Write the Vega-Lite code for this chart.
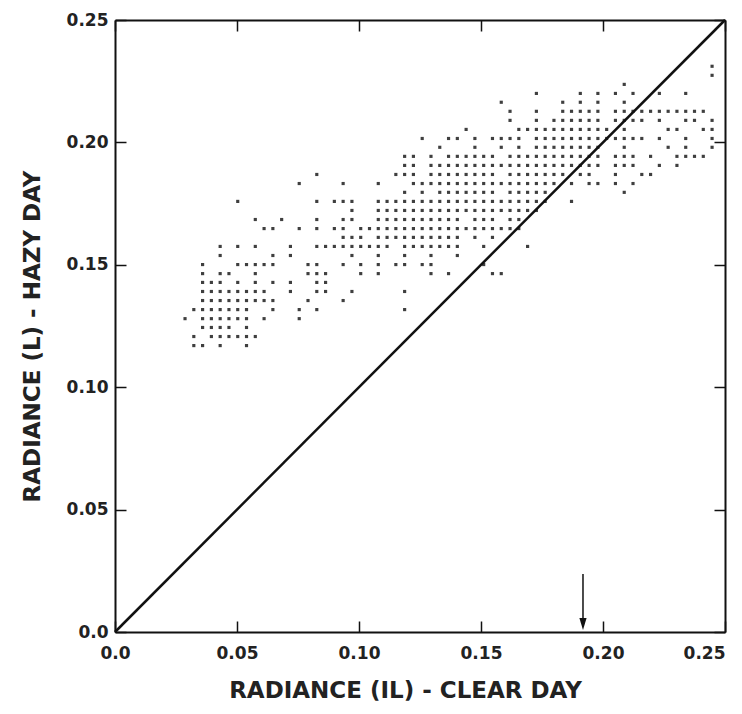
{
  "$schema": "https://vega.github.io/schema/vega-lite/v6.json",
  "width": 610,
  "height": 612,
  "autosize": "none",
  "padding": {"left": 115, "top": 20, "right": 17, "bottom": 82},
  "background": "white",
  "config": {
    "view": {"stroke": null},
    "axis": {
      "grid": false,
      "domainColor": "#111",
      "domainWidth": 2,
      "tickColor": "#111",
      "tickWidth": 1.5,
      "tickSize": -11,
      "labelFont": "DejaVu Sans",
      "labelFontWeight": "bold",
      "labelFontSize": 17,
      "labelColor": "#222",
      "titleFont": "DejaVu Sans",
      "titleFontWeight": "bold",
      "titleFontSize": 23,
      "titleColor": "#222"
    }
  },
  "layer": [
    {
      "data": {"values": [
        {"clear":0.0323,"hazy":0.117},{"clear":0.0359,"hazy":0.117},{"clear":0.0431,"hazy":0.117},{"clear":0.0539,"hazy":0.117},
        {"clear":0.0323,"hazy":0.1207},{"clear":0.0395,"hazy":0.1207},{"clear":0.0431,"hazy":0.1207},{"clear":0.0467,"hazy":0.1207},{"clear":0.0503,"hazy":0.1207},{"clear":0.0539,"hazy":0.1207},{"clear":0.0575,"hazy":0.1207},
        {"clear":0.0359,"hazy":0.1244},{"clear":0.0395,"hazy":0.1244},{"clear":0.0431,"hazy":0.1244},{"clear":0.0467,"hazy":0.1244},{"clear":0.0539,"hazy":0.1244},
        {"clear":0.0287,"hazy":0.128},{"clear":0.0359,"hazy":0.128},{"clear":0.0395,"hazy":0.128},{"clear":0.0431,"hazy":0.128},{"clear":0.0467,"hazy":0.128},{"clear":0.0503,"hazy":0.128},{"clear":0.0539,"hazy":0.128},{"clear":0.0611,"hazy":0.128},{"clear":0.0755,"hazy":0.128},
        {"clear":0.0323,"hazy":0.1317},{"clear":0.0359,"hazy":0.1317},{"clear":0.0395,"hazy":0.1317},{"clear":0.0431,"hazy":0.1317},{"clear":0.0467,"hazy":0.1317},{"clear":0.0503,"hazy":0.1317},{"clear":0.0539,"hazy":0.1317},{"clear":0.0647,"hazy":0.1317},{"clear":0.0755,"hazy":0.1317},{"clear":0.0827,"hazy":0.1317},{"clear":0.1187,"hazy":0.1317},
        {"clear":0.0359,"hazy":0.1354},{"clear":0.0395,"hazy":0.1354},{"clear":0.0431,"hazy":0.1354},{"clear":0.0467,"hazy":0.1354},{"clear":0.0503,"hazy":0.1354},{"clear":0.0539,"hazy":0.1354},{"clear":0.0575,"hazy":0.1354},{"clear":0.0611,"hazy":0.1354},{"clear":0.0647,"hazy":0.1354},{"clear":0.0791,"hazy":0.1354},{"clear":0.0935,"hazy":0.1354},
        {"clear":0.0359,"hazy":0.1391},{"clear":0.0395,"hazy":0.1391},{"clear":0.0431,"hazy":0.1391},{"clear":0.0467,"hazy":0.1391},{"clear":0.0503,"hazy":0.1391},{"clear":0.0539,"hazy":0.1391},{"clear":0.0575,"hazy":0.1391},{"clear":0.0611,"hazy":0.1391},{"clear":0.0719,"hazy":0.1391},{"clear":0.0827,"hazy":0.1391},{"clear":0.0863,"hazy":0.1391},{"clear":0.0971,"hazy":0.1391},{"clear":0.1187,"hazy":0.1391},
        {"clear":0.0359,"hazy":0.1428},{"clear":0.0395,"hazy":0.1428},{"clear":0.0431,"hazy":0.1428},{"clear":0.0503,"hazy":0.1428},{"clear":0.0575,"hazy":0.1428},{"clear":0.0647,"hazy":0.1428},{"clear":0.0719,"hazy":0.1428},{"clear":0.0827,"hazy":0.1428},{"clear":0.0863,"hazy":0.1428},
        {"clear":0.0359,"hazy":0.1464},{"clear":0.0431,"hazy":0.1464},{"clear":0.0467,"hazy":0.1464},{"clear":0.0575,"hazy":0.1464},{"clear":0.0791,"hazy":0.1464},{"clear":0.0827,"hazy":0.1464},{"clear":0.0863,"hazy":0.1464},{"clear":0.1007,"hazy":0.1464},{"clear":0.1079,"hazy":0.1464},{"clear":0.1295,"hazy":0.1464},{"clear":0.1367,"hazy":0.1464},{"clear":0.1547,"hazy":0.1464},{"clear":0.1583,"hazy":0.1464},
        {"clear":0.0359,"hazy":0.1501},{"clear":0.0503,"hazy":0.1501},{"clear":0.0539,"hazy":0.1501},{"clear":0.0575,"hazy":0.1501},{"clear":0.0611,"hazy":0.1501},{"clear":0.0647,"hazy":0.1501},{"clear":0.0791,"hazy":0.1501},{"clear":0.0827,"hazy":0.1501},{"clear":0.0935,"hazy":0.1501},{"clear":0.1007,"hazy":0.1501},{"clear":0.1079,"hazy":0.1501},{"clear":0.1151,"hazy":0.1501},{"clear":0.1187,"hazy":0.1501},{"clear":0.1259,"hazy":0.1501},{"clear":0.1295,"hazy":0.1501},{"clear":0.1511,"hazy":0.1501},
        {"clear":0.0431,"hazy":0.1538},{"clear":0.0647,"hazy":0.1538},{"clear":0.0719,"hazy":0.1538},{"clear":0.0971,"hazy":0.1538},{"clear":0.1079,"hazy":0.1538},{"clear":0.1187,"hazy":0.1538},{"clear":0.1295,"hazy":0.1538},{"clear":0.1403,"hazy":0.1538},
        {"clear":0.0431,"hazy":0.1575},{"clear":0.0503,"hazy":0.1575},{"clear":0.0575,"hazy":0.1575},{"clear":0.0719,"hazy":0.1575},{"clear":0.0827,"hazy":0.1575},{"clear":0.0863,"hazy":0.1575},{"clear":0.0899,"hazy":0.1575},{"clear":0.0935,"hazy":0.1575},{"clear":0.0971,"hazy":0.1575},{"clear":0.1007,"hazy":0.1575},{"clear":0.1043,"hazy":0.1575},{"clear":0.1079,"hazy":0.1575},{"clear":0.1115,"hazy":0.1575},{"clear":0.1187,"hazy":0.1575},{"clear":0.1223,"hazy":0.1575},{"clear":0.1259,"hazy":0.1575},{"clear":0.1295,"hazy":0.1575},{"clear":0.1331,"hazy":0.1575},{"clear":0.1367,"hazy":0.1575},{"clear":0.1403,"hazy":0.1575},{"clear":0.1511,"hazy":0.1575},{"clear":0.1691,"hazy":0.1575},
        {"clear":0.0935,"hazy":0.1612},{"clear":0.0971,"hazy":0.1612},{"clear":0.1007,"hazy":0.1612},{"clear":0.1079,"hazy":0.1612},{"clear":0.1115,"hazy":0.1612},{"clear":0.1151,"hazy":0.1612},{"clear":0.1187,"hazy":0.1612},{"clear":0.1223,"hazy":0.1612},{"clear":0.1259,"hazy":0.1612},{"clear":0.1295,"hazy":0.1612},{"clear":0.1331,"hazy":0.1612},{"clear":0.1367,"hazy":0.1612},{"clear":0.1403,"hazy":0.1612},{"clear":0.1475,"hazy":0.1612},{"clear":0.1547,"hazy":0.1612},
        {"clear":0.0611,"hazy":0.1648},{"clear":0.0647,"hazy":0.1648},{"clear":0.0755,"hazy":0.1648},{"clear":0.0827,"hazy":0.1648},{"clear":0.0899,"hazy":0.1648},{"clear":0.0935,"hazy":0.1648},{"clear":0.1007,"hazy":0.1648},{"clear":0.1043,"hazy":0.1648},{"clear":0.1079,"hazy":0.1648},{"clear":0.1115,"hazy":0.1648},{"clear":0.1151,"hazy":0.1648},{"clear":0.1187,"hazy":0.1648},{"clear":0.1223,"hazy":0.1648},{"clear":0.1259,"hazy":0.1648},{"clear":0.1295,"hazy":0.1648},{"clear":0.1331,"hazy":0.1648},{"clear":0.1367,"hazy":0.1648},{"clear":0.1403,"hazy":0.1648},{"clear":0.1439,"hazy":0.1648},{"clear":0.1475,"hazy":0.1648},{"clear":0.1511,"hazy":0.1648},{"clear":0.1547,"hazy":0.1648},{"clear":0.1583,"hazy":0.1648},{"clear":0.1619,"hazy":0.1648},{"clear":0.1655,"hazy":0.1648},
        {"clear":0.0575,"hazy":0.1685},{"clear":0.0683,"hazy":0.1685},{"clear":0.0827,"hazy":0.1685},{"clear":0.0935,"hazy":0.1685},{"clear":0.0971,"hazy":0.1685},{"clear":0.1079,"hazy":0.1685},{"clear":0.1115,"hazy":0.1685},{"clear":0.1151,"hazy":0.1685},{"clear":0.1187,"hazy":0.1685},{"clear":0.1223,"hazy":0.1685},{"clear":0.1259,"hazy":0.1685},{"clear":0.1295,"hazy":0.1685},{"clear":0.1331,"hazy":0.1685},{"clear":0.1367,"hazy":0.1685},{"clear":0.1403,"hazy":0.1685},{"clear":0.1475,"hazy":0.1685},{"clear":0.1511,"hazy":0.1685},{"clear":0.1547,"hazy":0.1685},{"clear":0.1619,"hazy":0.1685},{"clear":0.1655,"hazy":0.1685},
        {"clear":0.0971,"hazy":0.1722},{"clear":0.1079,"hazy":0.1722},{"clear":0.1115,"hazy":0.1722},{"clear":0.1151,"hazy":0.1722},{"clear":0.1187,"hazy":0.1722},{"clear":0.1223,"hazy":0.1722},{"clear":0.1259,"hazy":0.1722},{"clear":0.1295,"hazy":0.1722},{"clear":0.1331,"hazy":0.1722},{"clear":0.1367,"hazy":0.1722},{"clear":0.1403,"hazy":0.1722},{"clear":0.1439,"hazy":0.1722},{"clear":0.1475,"hazy":0.1722},{"clear":0.1511,"hazy":0.1722},{"clear":0.1547,"hazy":0.1722},{"clear":0.1583,"hazy":0.1722},{"clear":0.1619,"hazy":0.1722},{"clear":0.1655,"hazy":0.1722},{"clear":0.1691,"hazy":0.1722},{"clear":0.1727,"hazy":0.1722},
        {"clear":0.0503,"hazy":0.1759},{"clear":0.0827,"hazy":0.1759},{"clear":0.0899,"hazy":0.1759},{"clear":0.0935,"hazy":0.1759},{"clear":0.0971,"hazy":0.1759},{"clear":0.1079,"hazy":0.1759},{"clear":0.1115,"hazy":0.1759},{"clear":0.1151,"hazy":0.1759},{"clear":0.1187,"hazy":0.1759},{"clear":0.1223,"hazy":0.1759},{"clear":0.1259,"hazy":0.1759},{"clear":0.1295,"hazy":0.1759},{"clear":0.1331,"hazy":0.1759},{"clear":0.1367,"hazy":0.1759},{"clear":0.1403,"hazy":0.1759},{"clear":0.1439,"hazy":0.1759},{"clear":0.1475,"hazy":0.1759},{"clear":0.1511,"hazy":0.1759},{"clear":0.1547,"hazy":0.1759},{"clear":0.1583,"hazy":0.1759},{"clear":0.1619,"hazy":0.1759},{"clear":0.1655,"hazy":0.1759},{"clear":0.1691,"hazy":0.1759},{"clear":0.1727,"hazy":0.1759},{"clear":0.1763,"hazy":0.1759},{"clear":0.1871,"hazy":0.1759},
        {"clear":0.1187,"hazy":0.1796},{"clear":0.1259,"hazy":0.1796},{"clear":0.1331,"hazy":0.1796},{"clear":0.1367,"hazy":0.1796},{"clear":0.1403,"hazy":0.1796},{"clear":0.1439,"hazy":0.1796},{"clear":0.1475,"hazy":0.1796},{"clear":0.1511,"hazy":0.1796},{"clear":0.1547,"hazy":0.1796},{"clear":0.1619,"hazy":0.1796},{"clear":0.1655,"hazy":0.1796},{"clear":0.1691,"hazy":0.1796},{"clear":0.1727,"hazy":0.1796},{"clear":0.1763,"hazy":0.1796},{"clear":0.2087,"hazy":0.1796},
        {"clear":0.0755,"hazy":0.1832},{"clear":0.0935,"hazy":0.1832},{"clear":0.1079,"hazy":0.1832},{"clear":0.1223,"hazy":0.1832},{"clear":0.1259,"hazy":0.1832},{"clear":0.1295,"hazy":0.1832},{"clear":0.1331,"hazy":0.1832},{"clear":0.1367,"hazy":0.1832},{"clear":0.1403,"hazy":0.1832},{"clear":0.1439,"hazy":0.1832},{"clear":0.1475,"hazy":0.1832},{"clear":0.1511,"hazy":0.1832},{"clear":0.1547,"hazy":0.1832},{"clear":0.1583,"hazy":0.1832},{"clear":0.1619,"hazy":0.1832},{"clear":0.1655,"hazy":0.1832},{"clear":0.1691,"hazy":0.1832},{"clear":0.1727,"hazy":0.1832},{"clear":0.1763,"hazy":0.1832},{"clear":0.1799,"hazy":0.1832},{"clear":0.1871,"hazy":0.1832},{"clear":0.1943,"hazy":0.1832},{"clear":0.1979,"hazy":0.1832},{"clear":0.2051,"hazy":0.1832},{"clear":0.2123,"hazy":0.1832},
        {"clear":0.0827,"hazy":0.1869},{"clear":0.1151,"hazy":0.1869},{"clear":0.1187,"hazy":0.1869},{"clear":0.1223,"hazy":0.1869},{"clear":0.1295,"hazy":0.1869},{"clear":0.1331,"hazy":0.1869},{"clear":0.1367,"hazy":0.1869},{"clear":0.1403,"hazy":0.1869},{"clear":0.1439,"hazy":0.1869},{"clear":0.1475,"hazy":0.1869},{"clear":0.1511,"hazy":0.1869},{"clear":0.1547,"hazy":0.1869},{"clear":0.1619,"hazy":0.1869},{"clear":0.1655,"hazy":0.1869},{"clear":0.1691,"hazy":0.1869},{"clear":0.1727,"hazy":0.1869},{"clear":0.1763,"hazy":0.1869},{"clear":0.1799,"hazy":0.1869},{"clear":0.1835,"hazy":0.1869},{"clear":0.1907,"hazy":0.1869},{"clear":0.1943,"hazy":0.1869},{"clear":0.2051,"hazy":0.1869},{"clear":0.2159,"hazy":0.1869},{"clear":0.2195,"hazy":0.1869},
        {"clear":0.1187,"hazy":0.1906},{"clear":0.1223,"hazy":0.1906},{"clear":0.1295,"hazy":0.1906},{"clear":0.1331,"hazy":0.1906},{"clear":0.1367,"hazy":0.1906},{"clear":0.1403,"hazy":0.1906},{"clear":0.1439,"hazy":0.1906},{"clear":0.1475,"hazy":0.1906},{"clear":0.1511,"hazy":0.1906},{"clear":0.1547,"hazy":0.1906},{"clear":0.1583,"hazy":0.1906},{"clear":0.1619,"hazy":0.1906},{"clear":0.1655,"hazy":0.1906},{"clear":0.1691,"hazy":0.1906},{"clear":0.1727,"hazy":0.1906},{"clear":0.1763,"hazy":0.1906},{"clear":0.1799,"hazy":0.1906},{"clear":0.1835,"hazy":0.1906},{"clear":0.1871,"hazy":0.1906},{"clear":0.1907,"hazy":0.1906},{"clear":0.1943,"hazy":0.1906},{"clear":0.1979,"hazy":0.1906},{"clear":0.2051,"hazy":0.1906},{"clear":0.2087,"hazy":0.1906},{"clear":0.2123,"hazy":0.1906},{"clear":0.2231,"hazy":0.1906},{"clear":0.2303,"hazy":0.1906},
        {"clear":0.1187,"hazy":0.1943},{"clear":0.1223,"hazy":0.1943},{"clear":0.1295,"hazy":0.1943},{"clear":0.1367,"hazy":0.1943},{"clear":0.1403,"hazy":0.1943},{"clear":0.1439,"hazy":0.1943},{"clear":0.1475,"hazy":0.1943},{"clear":0.1511,"hazy":0.1943},{"clear":0.1547,"hazy":0.1943},{"clear":0.1619,"hazy":0.1943},{"clear":0.1655,"hazy":0.1943},{"clear":0.1691,"hazy":0.1943},{"clear":0.1727,"hazy":0.1943},{"clear":0.1763,"hazy":0.1943},{"clear":0.1799,"hazy":0.1943},{"clear":0.1835,"hazy":0.1943},{"clear":0.1871,"hazy":0.1943},{"clear":0.1907,"hazy":0.1943},{"clear":0.1943,"hazy":0.1943},{"clear":0.1979,"hazy":0.1943},{"clear":0.2051,"hazy":0.1943},{"clear":0.2087,"hazy":0.1943},{"clear":0.2123,"hazy":0.1943},{"clear":0.2195,"hazy":0.1943},{"clear":0.2303,"hazy":0.1943},{"clear":0.2339,"hazy":0.1943},{"clear":0.2375,"hazy":0.1943},{"clear":0.2411,"hazy":0.1943},
        {"clear":0.1331,"hazy":0.198},{"clear":0.1475,"hazy":0.198},{"clear":0.1583,"hazy":0.198},{"clear":0.1655,"hazy":0.198},{"clear":0.1727,"hazy":0.198},{"clear":0.1763,"hazy":0.198},{"clear":0.1799,"hazy":0.198},{"clear":0.1835,"hazy":0.198},{"clear":0.1871,"hazy":0.198},{"clear":0.1907,"hazy":0.198},{"clear":0.1943,"hazy":0.198},{"clear":0.1979,"hazy":0.198},{"clear":0.2087,"hazy":0.198},{"clear":0.2267,"hazy":0.198},{"clear":0.2339,"hazy":0.198},{"clear":0.2447,"hazy":0.198},
        {"clear":0.1259,"hazy":0.2016},{"clear":0.1367,"hazy":0.2016},{"clear":0.1403,"hazy":0.2016},{"clear":0.1475,"hazy":0.2016},{"clear":0.1547,"hazy":0.2016},{"clear":0.1583,"hazy":0.2016},{"clear":0.1619,"hazy":0.2016},{"clear":0.1655,"hazy":0.2016},{"clear":0.1727,"hazy":0.2016},{"clear":0.1763,"hazy":0.2016},{"clear":0.1799,"hazy":0.2016},{"clear":0.1835,"hazy":0.2016},{"clear":0.1871,"hazy":0.2016},{"clear":0.1907,"hazy":0.2016},{"clear":0.1943,"hazy":0.2016},{"clear":0.1979,"hazy":0.2016},{"clear":0.2015,"hazy":0.2016},{"clear":0.2051,"hazy":0.2016},{"clear":0.2087,"hazy":0.2016},{"clear":0.2123,"hazy":0.2016},{"clear":0.2159,"hazy":0.2016},{"clear":0.2231,"hazy":0.2016},{"clear":0.2339,"hazy":0.2016},{"clear":0.2447,"hazy":0.2016},
        {"clear":0.1439,"hazy":0.2053},{"clear":0.1655,"hazy":0.2053},{"clear":0.1691,"hazy":0.2053},{"clear":0.1727,"hazy":0.2053},{"clear":0.1763,"hazy":0.2053},{"clear":0.1799,"hazy":0.2053},{"clear":0.1835,"hazy":0.2053},{"clear":0.1871,"hazy":0.2053},{"clear":0.1907,"hazy":0.2053},{"clear":0.1943,"hazy":0.2053},{"clear":0.1979,"hazy":0.2053},{"clear":0.2015,"hazy":0.2053},{"clear":0.2087,"hazy":0.2053},{"clear":0.2267,"hazy":0.2053},{"clear":0.2303,"hazy":0.2053},{"clear":0.2411,"hazy":0.2053},{"clear":0.2447,"hazy":0.2053},
        {"clear":0.1619,"hazy":0.209},{"clear":0.1727,"hazy":0.209},{"clear":0.1799,"hazy":0.209},{"clear":0.1835,"hazy":0.209},{"clear":0.1871,"hazy":0.209},{"clear":0.1907,"hazy":0.209},{"clear":0.1943,"hazy":0.209},{"clear":0.1979,"hazy":0.209},{"clear":0.2051,"hazy":0.209},{"clear":0.2087,"hazy":0.209},{"clear":0.2123,"hazy":0.209},{"clear":0.2159,"hazy":0.209},{"clear":0.2231,"hazy":0.209},{"clear":0.2339,"hazy":0.209},{"clear":0.2375,"hazy":0.209},{"clear":0.2447,"hazy":0.209},
        {"clear":0.1619,"hazy":0.2127},{"clear":0.1727,"hazy":0.2127},{"clear":0.1835,"hazy":0.2127},{"clear":0.1871,"hazy":0.2127},{"clear":0.1907,"hazy":0.2127},{"clear":0.1943,"hazy":0.2127},{"clear":0.1979,"hazy":0.2127},{"clear":0.2051,"hazy":0.2127},{"clear":0.2087,"hazy":0.2127},{"clear":0.2123,"hazy":0.2127},{"clear":0.2159,"hazy":0.2127},{"clear":0.2195,"hazy":0.2127},{"clear":0.2231,"hazy":0.2127},{"clear":0.2267,"hazy":0.2127},{"clear":0.2303,"hazy":0.2127},{"clear":0.2339,"hazy":0.2127},{"clear":0.2375,"hazy":0.2127},{"clear":0.2411,"hazy":0.2127},
        {"clear":0.1583,"hazy":0.2164},{"clear":0.1835,"hazy":0.2164},{"clear":0.1907,"hazy":0.2164},{"clear":0.1979,"hazy":0.2164},{"clear":0.2087,"hazy":0.2164},
        {"clear":0.1727,"hazy":0.22},{"clear":0.1907,"hazy":0.22},{"clear":0.1979,"hazy":0.22},{"clear":0.2051,"hazy":0.22},{"clear":0.2123,"hazy":0.22},{"clear":0.2231,"hazy":0.22},{"clear":0.2339,"hazy":0.22},
        {"clear":0.2087,"hazy":0.2237},
        {"clear":0.2447,"hazy":0.2274},
        {"clear":0.2447,"hazy":0.2311}
      ]},
      "mark": {"type": "point", "shape": "square", "filled": true, "size": 10, "color": "#2a2a2a", "opacity": 0.9},
      "encoding": {
        "x": {"field": "clear", "type": "quantitative", "scale": {"domain": [0, 0.25], "nice": false, "zero": false},
          "axis": {"orient": "bottom", "values": [0, 0.05, 0.1, 0.15, 0.2, 0.25], "labelExpr": "datum.value == 0 ? '0.0' : format(datum.value, '.2f')", "labelFlush": false, "labelOverlap": false, "labelAlign": {"condition": {"test": "datum.value >= 0.25", "value": "right"}, "value": "center"}, "labelPadding": 24, "title": "RADIANCE (IL) - CLEAR DAY", "titlePadding": 18, "titleX": 290}},
        "y": {"field": "hazy", "type": "quantitative", "scale": {"domain": [0, 0.25], "nice": false, "zero": false},
          "axis": {"orient": "left", "values": [0, 0.05, 0.1, 0.15, 0.2, 0.25], "labelExpr": "datum.value == 0 ? '0.0' : format(datum.value, '.2f')", "labelFlush": false, "labelOverlap": false, "labelPadding": 18, "title": "RADIANCE (L) - HAZY DAY", "titlePadding": 22, "titleY": 316}}
      }
    },
    {
      "data": {"values": [{"clear": 0, "hazy": 0}, {"clear": 0.25, "hazy": 0.25}]},
      "mark": {"type": "line", "color": "#111", "strokeWidth": 2.5},
      "encoding": {
        "x": {"field": "clear", "type": "quantitative", "scale": {"domain": [0, 0.25], "nice": false, "zero": false},
          "axis": {"orient": "top", "values": [0, 0.05, 0.1, 0.15, 0.2, 0.25], "labels": false, "title": null}},
        "y": {"field": "hazy", "type": "quantitative", "scale": {"domain": [0, 0.25], "nice": false, "zero": false},
          "axis": {"orient": "right", "values": [0, 0.05, 0.1, 0.15, 0.2, 0.25], "labels": false, "title": null}}
      }
    },
    {
      "data": {"values": [{"clear": 0.1918, "hazy": 0.0237, "hazy_end": 0.004}]},
      "mark": {"type": "rule", "color": "#111", "strokeWidth": 1.5},
      "encoding": {
        "x": {"field": "clear", "type": "quantitative", "axis": null},
        "y": {"field": "hazy", "type": "quantitative", "axis": null},
        "y2": {"field": "hazy_end"}
      }
    },
    {
      "data": {"values": [{"clear": 0.1918, "hazy": 0.0033}]},
      "mark": {"type": "point", "shape": "M-0.6,-1L0.6,-1L0,1Z", "filled": true, "size": 144, "color": "#111", "opacity": 1},
      "encoding": {
        "x": {"field": "clear", "type": "quantitative", "axis": null},
        "y": {"field": "hazy", "type": "quantitative", "axis": null}
      }
    }
  ],
  "resolve": {"axis": {"x": "independent", "y": "independent"}}
}
